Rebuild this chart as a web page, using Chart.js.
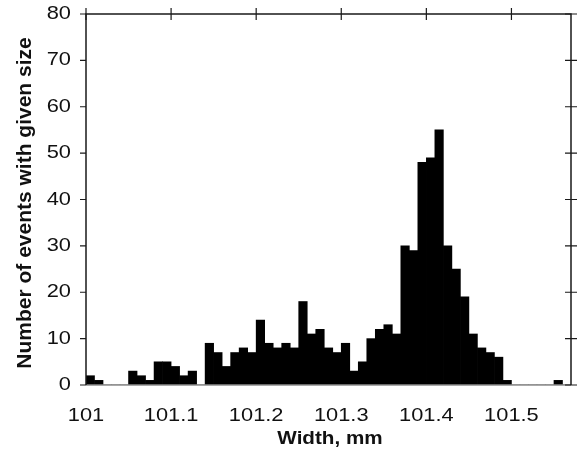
<!DOCTYPE html>
<html>
<head>
<meta charset="utf-8">
<script src="https://cdn.jsdelivr.net/npm/chart.js@4.4.1/dist/chart.umd.min.js"></script>
<style>
  body { margin: 0; background: #fff; }
  #wrap { width: 584px; height: 454px; position: relative; }
</style>
</head>
<body>
<div id="wrap"><canvas id="histChart"></canvas></div>
<script>
// bin centres (mm) and counts per 0.01 mm bin
var widths = [
    101.005, 101.015, 101.025, 101.035, 101.045, 101.055, 101.065, 101.075, 101.085, 101.095,
    101.105, 101.115, 101.125, 101.135, 101.145, 101.155, 101.165, 101.175, 101.185, 101.195,
    101.205, 101.215, 101.225, 101.235, 101.245, 101.255, 101.265, 101.275, 101.285, 101.295,
    101.305, 101.315, 101.325, 101.335, 101.345, 101.355, 101.365, 101.375, 101.385, 101.395,
    101.405, 101.415, 101.425, 101.435, 101.445, 101.455, 101.465, 101.475, 101.485, 101.495,
    101.505, 101.515, 101.525, 101.535, 101.545, 101.555, 101.565
];
var counts = [
    2, 1, 0, 0, 0, 3, 2, 1, 5, 5,
    4, 2, 3, 0, 9, 7, 4, 7, 8, 7,
    14, 9, 8, 9, 8, 18, 11, 12, 8, 7,
    9, 3, 5, 10, 12, 13, 11, 30, 29, 48,
    49, 55, 30, 25, 19, 11, 8, 7, 6, 1,
    0, 0, 0, 0, 0, 1, 0
];
var xTickValues = [101, 101.1, 101.2, 101.3, 101.4, 101.5];
var xTickLabels = ['101', '101.1', '101.2', '101.3', '101.4', '101.5'];
var yTickValues = [0, 10, 20, 30, 40, 50, 60, 70, 80];
var yTickLabels = ['0', '10', '20', '30', '40', '50', '60', '70', '80'];

function drawText(ctx, text, x, y, font, align, stretch, rotate) {
    ctx.save();
    ctx.translate(x, y);
    ctx.scale(stretch, 1); // the reference text is a bit wide
    if (rotate) ctx.rotate(-Math.PI / 2);
    ctx.font = font;
    ctx.fillStyle = '#111';
    ctx.textAlign = align;
    ctx.textBaseline = 'middle';
    ctx.fillText(text, 0, 0);
    ctx.restore();
}

var framePlugin = {
    id: 'frame',
    afterDatasetsDraw: function(chart) {
        var ctx = chart.ctx;
        var a = chart.chartArea;
        var xs = chart.scales.x;
        var ys = chart.scales.y;
        ctx.save();
        ctx.lineCap = 'butt';

        // zero line
        var y0 = ys.getPixelForValue(0);
        ctx.strokeStyle = '#8c8c8c';
        ctx.lineWidth = 1.5;
        ctx.beginPath();
        ctx.moveTo(a.left, y0);
        ctx.lineTo(a.right, y0);
        ctx.stroke();

        // box
        ctx.strokeStyle = '#1a1a1a';
        ctx.lineWidth = 1.5;
        ctx.beginPath();
        ctx.moveTo(a.left, a.bottom);
        ctx.lineTo(a.left, a.top);
        ctx.lineTo(a.right, a.top);
        ctx.lineTo(a.right, a.bottom);
        ctx.stroke();

        // ticks
        ctx.lineWidth = 1.2;
        ctx.beginPath();
        ys.ticks.forEach(function(t) {
            var py = ys.getPixelForValue(t.value);
            ctx.moveTo(a.left - 6, py);
            ctx.lineTo(a.left, py);
            ctx.moveTo(a.right - 6, py);
            ctx.lineTo(a.right + 6, py);
        });
        xs.ticks.forEach(function(t) {
            var px = xs.getPixelForValue(t.value);
            ctx.moveTo(px, a.top - 6);
            ctx.lineTo(px, a.top + 6);
        });
        ctx.stroke();
        ctx.restore();

        // labels
        var tickFont = '18.5px "Liberation Sans", Arial, sans-serif';
        ys.ticks.forEach(function(t, i) {
            drawText(ctx, yTickLabels[i], 71, ys.getPixelForValue(t.value), tickFont, 'right', 1.18);
        });
        xs.ticks.forEach(function(t, i) {
            drawText(ctx, xTickLabels[i], xs.getPixelForValue(t.value), 416, tickFont, 'center', 1.18);
        });

        drawText(ctx, 'Width, mm', 330, 439, 'bold 17.5px "Liberation Sans", Arial, sans-serif', 'center', 1.18);
        drawText(ctx, 'Number of events with given size', 25, 203, 'bold 21px "Liberation Sans", Arial, sans-serif', 'center', 1, true);
    }
};

var ctx = document.getElementById('histChart').getContext('2d');
var histChart = new Chart(ctx, {
    type: 'bar',
    data: {
        datasets: [{
            data: widths.map(function(w, i) { return { x: w, y: counts[i] }; }),
            backgroundColor: '#000',
            borderWidth: 0,
            barPercentage: 1,
            categoryPercentage: 1
        }]
    },
    options: {
        responsive: true,
        maintainAspectRatio: false,
        animation: false,
        events: [],
        layout: {
            padding: { left: 86, top: 14, right: 13, bottom: 69 }
        },
        plugins: {
            legend: { display: false },
            tooltip: { enabled: false }
        },
        scales: {
            x: {
                type: 'linear',
                display: false,
                offset: false,
                min: 101,
                max: 101.57,
                afterBuildTicks: function(axis) {
                    axis.ticks = xTickValues.map(function(v) { return { value: v }; });
                }
            },
            y: {
                type: 'linear',
                display: false,
                min: 0,
                max: 80,
                afterBuildTicks: function(axis) {
                    axis.ticks = yTickValues.map(function(v) { return { value: v }; });
                }
            }
        }
    },
    plugins: [framePlugin]
});
</script>
</body>
</html>
